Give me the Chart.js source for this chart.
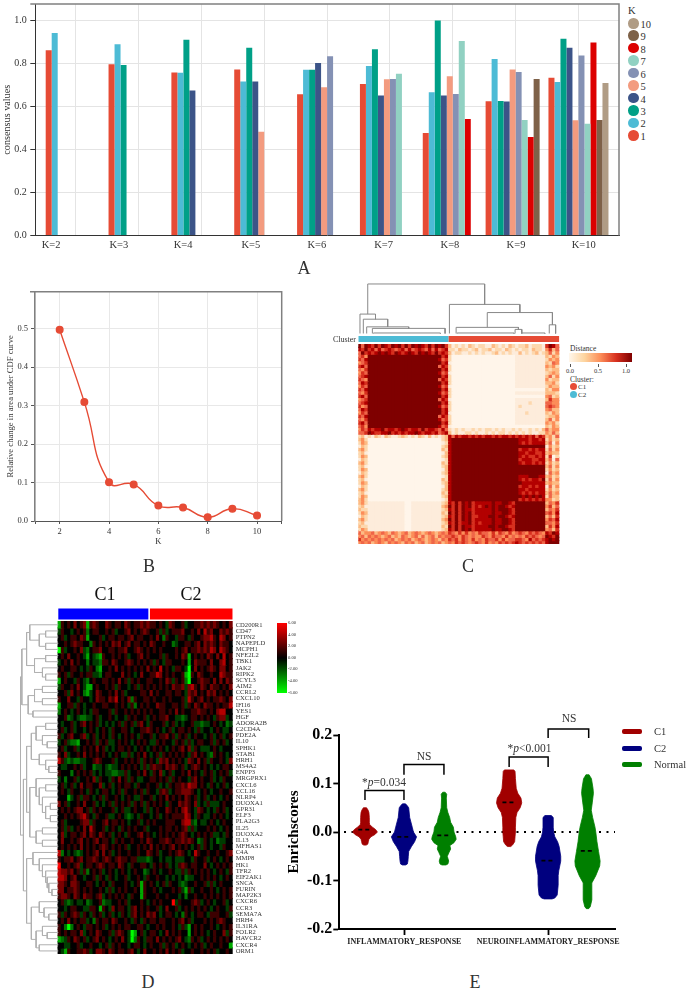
<!DOCTYPE html>
<html>
<head>
<meta charset="utf-8">
<title>Consensus clustering figure</title>
<script src="https://cdn.jsdelivr.net/npm/chart.js@4/dist/chart.umd.min.js"></script>
<style>
	html, body { margin: 0; padding: 0; background: #fff; }
	#page { position: relative; width: 688px; height: 991px; overflow: hidden; font-family: "Liberation Serif", serif; color: #333; }
	#page canvas { position: absolute; }
	.t { position: absolute; white-space: nowrap; transform: translate(-50%, -50%); line-height: 1; }
	.l { transform: translate(0, -50%); }
	.r { transform: translate(-100%, -50%); }
	.s { position: absolute; }
</style>
</head>
<body>
<div id="page">
	<canvas id="chartA" style="left:0;top:0" width="625" height="262"></canvas>
	<canvas id="chartB" style="left:0;top:280px" width="300" height="280"></canvas>
	<canvas id="dendroC" style="left:358px;top:280px" width="202" height="64"></canvas>
	<canvas id="heatC" style="left:358px;top:344px" width="202" height="201"></canvas>
	<canvas id="chartD" style="left:20px;top:600px" width="262" height="356"></canvas>
	<canvas id="chartE" style="left:285px;top:700px" width="335" height="255"></canvas>

	<div class="t" style="left:304px;top:268px;font-size:18px">A</div>
	<div class="t" style="left:149px;top:566px;font-size:18px">B</div>
	<div class="t" style="left:468px;top:566px;font-size:18px">C</div>
	<div class="t" style="left:148px;top:982px;font-size:18px">D</div>
	<div class="t" style="left:475px;top:982px;font-size:18px">E</div>

	<div id="legendA"></div>

	<div class="t r" style="left:356px;top:340px;font-size:8px">Cluster</div>
	<div class="t l" style="left:570px;top:349px;font-size:7.5px">Distance</div>
	<div class="s" style="left:569px;top:353px;width:63px;height:9px;background:linear-gradient(to right,#fff7ec,#fdd49e,#fc8d59,#d7301f,#7f0000)"></div>
	<div class="s" style="left:569.5px;top:364px;width:.8px;height:3px;background:#555"></div>
	<div class="s" style="left:597.5px;top:364px;width:.8px;height:3px;background:#555"></div>
	<div class="s" style="left:625.5px;top:364px;width:.8px;height:3px;background:#555"></div>
	<div class="t" style="left:570px;top:371px;font-size:6.5px">0.0</div>
	<div class="t" style="left:598px;top:371px;font-size:6.5px">0.5</div>
	<div class="t" style="left:626px;top:371px;font-size:6.5px">1.0</div>
	<div class="t l" style="left:570px;top:380px;font-size:7.5px">Cluster:</div>
	<div class="s" style="left:569.5px;top:383px;width:7px;height:7px;border-radius:50%;background:#E64B35"></div>
	<div class="s" style="left:569.5px;top:391px;width:7px;height:7px;border-radius:50%;background:#4DBBD5"></div>
	<div class="t l" style="left:578px;top:387px;font-size:7px">C1</div>
	<div class="t l" style="left:578px;top:395px;font-size:7px">C2</div>

	<div class="t" style="left:105px;top:594px;font-size:18px;color:#111">C1</div>
	<div class="t" style="left:191px;top:594px;font-size:18px;color:#111">C2</div>
	<div class="s" style="left:277.3px;top:622.7px;width:9.4px;height:70px;background:linear-gradient(to bottom,#f00,#000 50%,#0f0)"></div>
	<div class="t l" style="left:288px;top:623.3px;font-size:4.6px">6.00</div>
	<div class="t l" style="left:288px;top:634.7px;font-size:4.6px">4.00</div>
	<div class="t l" style="left:288px;top:646.3px;font-size:4.6px">2.00</div>
	<div class="t l" style="left:288px;top:657.7px;font-size:4.6px">0.00</div>
	<div class="t l" style="left:288px;top:669.3px;font-size:4.6px">-2.00</div>
	<div class="t l" style="left:288px;top:681px;font-size:4.6px">-4.00</div>
	<div class="t l" style="left:288px;top:692.7px;font-size:4.6px">-6.00</div>

	<div class="t" style="left:384px;top:782.5px;font-size:11.5px">*<i>p</i>=0.034</div>
	<div class="t" style="left:424px;top:757px;font-size:11.5px">NS</div>
	<div class="t" style="left:529.5px;top:748.5px;font-size:11.5px">*<i>p</i>&lt;0.001</div>
	<div class="t" style="left:569px;top:719px;font-size:11.5px">NS</div>
	<div class="s" style="left:621.7px;top:729px;width:20.6px;height:4.5px;border-radius:2px;background:#A10000"></div>
	<div class="s" style="left:621.7px;top:746px;width:20.6px;height:4.5px;border-radius:2px;background:#00007F"></div>
	<div class="s" style="left:621.7px;top:762px;width:20.6px;height:4.5px;border-radius:2px;background:#007F00"></div>
	<div class="t l" style="left:654px;top:731.5px;font-size:10.5px">C1</div>
	<div class="t l" style="left:654px;top:748.5px;font-size:10.5px">C2</div>
	<div class="t l" style="left:654px;top:764.5px;font-size:10.5px">Normal</div>
</div>

<script>
	// panel A
	var kValues = [2, 3, 4, 5, 6, 7, 8, 9, 10];
	var kLabels = ["K=2", "K=3", "K=4", "K=5", "K=6", "K=7", "K=8", "K=9", "K=10"];
	var kLabelAt = [1.607, 2.685, 3.708, 4.787, 5.838, 6.898, 7.955, 9.006, 10.083];
	var cluster1 = [0.862, 0.797, 0.758, 0.772, 0.657, 0.705, 0.477, 0.624, 0.734];
	var cluster2 = [0.942, 0.890, 0.757, 0.716, 0.771, 0.789, 0.666, 0.821, 0.714];
	var cluster3 = [null, 0.793, 0.911, 0.873, 0.771, 0.866, 1.000, 0.626, 0.915];
	var cluster4 = [null, null, 0.674, 0.716, 0.802, 0.651, 0.651, 0.623, 0.873];
	var cluster5 = [null, null, null, 0.483, 0.690, 0.727, 0.741, 0.772, 0.536];
	var cluster6 = [null, null, null, null, 0.834, 0.728, 0.658, 0.761, 0.837];
	var cluster7 = [null, null, null, null, null, 0.752, 0.905, 0.537, 0.520];
	var cluster8 = [null, null, null, null, null, null, 0.542, 0.458, 0.898];
	var cluster9 = [null, null, null, null, null, null, null, 0.728, 0.537];
	var cluster10 = [null, null, null, null, null, null, null, null, 0.710];
	var clusterColors = ["#E64B35", "#4DBBD5", "#00A087", "#3C5488", "#F39B7F", "#8491B4", "#91D1C2", "#DC0000", "#7E6148", "#B09C85"];

	// panel B
	var cdfK = [2, 3, 4, 5, 6, 7, 8, 9, 10];
	var cdfChange = [0.497, 0.309, 0.101, 0.095, 0.040, 0.035, 0.010, 0.032, 0.014];

	// panel C, one digit per cell, 0 = distance 0.0 and 8 = distance 1.0
	var distanceRows = [
		"858768687687868687876868786312121321221132121321223122216875",
		"768675756765675756765757567221322123122312213212122132214635",
		"586767878768767876878768676312211212121123121211312123123524",
		"564888888888888888888888867200000000000000000001111111113243",
		"657888888888888888888888756200000000000000000001111111112434",
		"456888888888888888888888867100000000000000000001111111113254",
		"675888888888888888888888576200000000000000000001111111114342",
		"546888888888888888888888867200000000000000000001111111113233",
		"465888888888888888888888756100000000000000000001111111112343",
		"567888888888888888888888867200000000000000000001111111113524",
		"654888888888888888888888576200000000000000000001111111114233",
		"576888888888888888888888867200000000000000000001111111113342",
		"465888888888888888888888756100000000000000000001111111112433",
		"657888888888888888888888867200000000000000000000000000003244",
		"546888888888888888888888756200000000000000000001111111113332",
		"675888888888888888888888867200000000000000000000000000004523",
		"456888888888888888888888576100000000000000000001111111113644",
		"567888888888888888888888867200000000000000000001111211115544",
		"645888888888888888888888756200000000000000000001211111115654",
		"576888888888888888888888867200000000000000000001111111114533",
		"465888888888888888888888867100000000000000000001112111113243",
		"657888888888888888888888576200000000000000000001111111112334",
		"546888888888888888888888756200000000000000000001111111113524",
		"675888888888888888888888867200000000000000000001111111114342",
		"564888888888888888888888756100000000000000000000000000003243",
		"465767786776787677686776575212121121212212121121211212135344",
		"556876677867676778767767567312112212112121221212121211224353",
		"231213213211232121321312123757677676767767677676767675763425",
		"342000000000000000000000023788888888888888888888777677672423",
		"243000000000000000000000012788888888888888888888767677773514",
		"132000000000000000000000023788888888888888888888888888881423",
		"342000000000000000000000032788888888888888888888677676772524",
		"231000000000000000000000013788888888888888888888776776673433",
		"243000000000000000000000023788888888888888888888767667672602",
		"132000000000000000000000012788888888888888888888677766773515",
		"342000000000000000000000032788888888888888888888767767672423",
		"231000000000000000000000023788888888888888888888888888883524",
		"243000000000000000000000013788888888888888888888888888882423",
		"132000000000000000000000023788888888888888888888888888881534",
		"342000000000000000000000012788888888888888888888777888773423",
		"231000000000000000000000032788888888888888888888767677682524",
		"243000000000000000000000023788888888888888888888877777773433",
		"132000000000000000000000013788888888888888888888677676771524",
		"342000000000000000000000023788888888888888888888776777772423",
		"231000000000000000000000032788888888888888888888767676773534",
		"243000000000000000000000023788888888888888888888878787872533",
		"342000000000000000000000012788888888888888888888676767674423",
		"342111111111110011111111123768687867777787788768888888883546",
		"231111111111110011111111134868687867678787887678888888884635",
		"322111111111110011111111123768687767777787888768888888883546",
		"243111111111110011111111132868687867777787788768888888885647",
		"132111111111110011111111123768687866777887887678888888883536",
		"342111111111110011111111134868687867777787788768888888884657",
		"231111111111110011111111123768677867677787788768888888885546",
		"322111111111110011111111132868687767777887887668888888883647",
		"243111111111110011111111123768687867777787788768888888884536",
		"534453454354345345434543454654646454655464654645654656547687",
		"453545434534354345353453545565465454465465546454546565458768",
		"645454545453454534543454354656465464546556464556654756567878",
		"454534543545435453453454534546565456546454656567656565657888"
	];
	var distanceColors = ["#fff5ea", "#fdecdb", "#fdd8ae", "#fdbb84", "#fc8d59", "#ef6548", "#d7301f", "#b30000", "#7f0000"];
	var columnTree = [
		[0.5, [1.5, [2.5, [4.2, 25.9, 0.13], 0.16], 0.31], 0.41],
		[27.2, [[29.2, [46.8, 48.8, 0.11], 0.15], [57, 58.9, 0.2], 0.44], 0.6],
		1
	];
	var columnTreeFoot = [[4.5, 24.5, 0.04], [29.5, 46.5, 0.04], [48.8, 55.7, 0.04]];
	var clusterBarC2 = [0, 26.9];
	var clusterBarC1 = [26.9, 60];

	// panel D, one digit per cell, 0 = brightest green, 4 = black, 8 = brightest red
	var genes = ["CD200R1", "CD47", "PTPN2", "NAPEPLD", "MCPH1", "NFE2L2", "TBK1", "JAK2", "RIPK2", "SCYL3", "AIM2", "CCRL2", "CXCL10", "IFI16", "YES1", "HGF", "ADORA2B", "C2CD4A", "PDE2A", "IL10", "SPHK1", "STAB1", "HRH1", "MS4A2", "ENPP3", "MRGPRX1", "CXCL6", "CCL16", "NLRP4", "DUOXA1", "GPR31", "ELF3", "PLA2G3", "IL25", "DUOXA2", "IL13", "MFHAS1", "C4A", "MMP8", "HK1", "TFR2", "EIF2AK1", "SNCA", "FURIN", "MAP2K3", "CXCR6", "CCR3", "SEMA7A", "HRH4", "IL31RA", "FOLR2", "HAVCR2", "CXCR4", "ORM1"];
	var expressionRows = [
		"15454 64561 56544 65455 46545 56565 54543 65445 34455 65656 54546",
		"35443 45452 45544 54534 45645 45654 45353 45556 44546 47564 46565",
		"45345 54651 44453 45545 54564 55445 46425 44355 43544 56675 47645",
		"44545 65544 25454 54656 45645 54546 54454 42344 55456 46565 46554",
		"05344 54632 45564 45545 56445 65454 54544 44545 64556 56576 47654",
		"45464 45431 43215 44545 45344 56454 44535 44546 51454 54654 64745",
		"34546 45442 43325 54654 45654 54545 35435 54445 41465 55464 46745",
		"45445 54343 54214 45464 54545 45464 54745 43554 30464 54565 46645",
		"54535 44545 53324 55444 64543 46445 57645 45445 10546 54454 47655",
		"14544 35432 45445 54546 45354 54455 44546 53545 20445 65546 46465",
		"35445 46431 14544 54535 44345 35454 54545 46556 36754 65465 54546",
		"44536 45421 34654 45464 53444 45546 45445 54554 36564 54656 45454",
		"54464 43544 34655 46574 54625 44554 54454 54445 37545 64545 56546",
		"14455 35434 45445 54454 54352 45454 46554 45545 35465 46554 54557",
		"24543 45434 35544 45354 45454 54545 44554 54645 44556 55454 67744",
		"44523 43223 34534 45434 43545 44534 54556 44332 34554 54543 56634",
		"43445 34564 54534 34345 35453 56435 44453 45343 44533 23345 43423",
		"45345 34434 54345 43544 55434 45565 45434 53455 45435 34434 54334",
		"53456 44563 45345 43543 45454 35445 34556 45354 53454 43453 45345",
		"34532 21445 45354 53345 45434 54543 35454 43545 35345 54453 54534",
		"45344 53454 54645 34345 54543 45434 54543 45456 46354 33345 43444",
		"54634 45464 54545 43454 33534 54643 45354 54545 43564 54325 45434",
		"75323 22334 45654 44534 45454 53545 43656 45454 36546 45354 45436",
		"43344 54534 42334 32334 54545 43535 65546 56545 34565 45434 34554",
		"54442 45454 53434 33223 35344 54643 54634 53445 46454 35453 45453",
		"34244 53445 46354 43546 45354 33445 54545 35454 43564 54453 43544",
		"45345 34645 54463 45345 45543 54454 45343 54556 57664 54354 34534",
		"45435 44543 54345 54345 35445 45354 43565 34556 66543 45434 45445",
		"44413 45355 43453 54454 34543 35445 34546 45454 65453 45345 43454",
		"64534 45464 45343 45354 54535 45354 54543 54465 65463 43533 34544",
		"45454 56645 35454 44534 53345 44353 45446 54546 75436 54343 54534",
		"44545 45675 43544 53345 43234 35443 45345 45555 76435 43345 45434",
		"45344 44566 35445 64554 54344 53454 54445 55446 77324 33454 34544",
		"45353 45464 75445 34543 54545 44534 44545 54545 63534 44545 43454",
		"46345 54564 65465 45345 43544 56454 34545 45456 54345 45453 34354",
		"46445 45645 45645 54354 54454 45465 44556 54556 56542 35434 23344",
		"45454 54645 45456 54545 45344 54546 45454 56454 54345 35434 43544",
		"72434 32345 45646 45345 44544 54465 45344 54565 43475 44544 54456",
		"54556 45645 56545 65456 55455 33323 44343 34333 44354 45345 43454",
		"84454 56345 54565 45546 54354 45543 54545 34356 54554 46434 54545",
		"76656 45352 45453 45434 54345 44234 54344 54335 35454 54543 45435",
		"77645 64434 45354 35434 45344 54354 45443 43434 23344 54545 43454",
		"66546 65445 54345 43544 45434 51545 43453 54432 34454 45353 45444",
		"66455 65454 54454 35345 45445 41544 54344 45453 15344 54454 34545",
		"56654 65465 54563 45454 54354 41544 45445 44434 24454 45454 54545",
		"45323 43342 34452 33445 45344 45434 54544 48354 44565 34543 44534",
		"44345 54433 55415 43645 54356 45454 45346 44534 54545 45434 54435",
		"53545 65354 35453 45343 54356 45465 64345 54342 54345 54355 54453",
		"45464 54553 42545 54654 45435 43545 54554 45456 45344 45454 56544",
		"54202 45435 54545 34545 45544 55434 45454 45435 31454 54454 34545",
		"54545 54634 54654 45356 54301 45345 54346 45454 41454 54345 44635",
		"12354 65453 45645 43454 64302 54355 46454 54564 32545 34545 45454",
		"44334 45344 54434 53545 44345 54345 44535 45345 43454 53454 45441",
		"43154 45565 34665 46545 54564 34644 54546 45453 44544 54545 34454"
	];
	var expressionColors = ["#00ff00", "#00aa00", "#007000", "#003c00", "#000000", "#3c0000", "#780000", "#b40000", "#ff0000"];
	var rowTree = [
		[
			[
				[0.5, [[1.5, 2.5, 4], [3.5, 4.5, 4], 6], 9],
				[[5.5, 6.5, 4], [7.5, [8.5, 9.5, 4], 5], 7.5],
				10
			],
			[[[10.5, 11.5, 5], [12.5, 13.5, 5], 7.5], [14.5, 15.5, 8], 9.5],
			11.5
		],
		[
			[
				[
					[[16.5, 17.5, 4], [18.5, [19.5, 20.5, 3.5], 5], 7],
					[21.5, [22.5, [23.5, 24.5, 3], 4], 6],
					8.5
				],
				[
					[25.5, [[26.5, 27.5, 4], [28.5, [[29.5, 30.5, 2.5], [31.5, 32.5, 2.5], 4], 5], 6], 7],
					[[33.5, 34.5, 5], [35.5, 36.5, 5], 7],
					9
				],
				10
			],
			[
				[37.5, [38.5, [39.5, [40.5, [41.5, [42.5, [43.5, 44.5, 2], 3], 3.5], 4], 5], 6], 8],
				[[45.5, [46.5, [47.5, 48.5, 3], 4.5], 6], [[49.5, [50.5, 51.5, 3.5], 5], [52.5, 53.5, 6], 7], 8.5],
				10
			],
			11
		],
		12
	];
	var sampleBarC1 = [0, 28.4];
	var sampleBarC2 = [28.9, 55];

	// panel E, half widths are in units of the x scale
	var violinPositions = [1, 1.99, 3.005, 4.66, 5.65, 6.65];
	var violinY1 = [0.05, 0.045, 0.04, 0.03, 0.02, 0.015, 0.01, 0.005, 0, -0.005, -0.01, -0.015, -0.02, -0.025, -0.027];
	var violinW1 = [0.04, 0.08, 0.10, 0.11, 0.11, 0.12, 0.19, 0.27, 0.315, 0.255, 0.15, 0.10, 0.085, 0.07, 0.03];
	var violinY2 = [0.058, 0.054, 0.05, 0.03, 0.01, 0, -0.01, -0.02, -0.03, -0.04, -0.05, -0.06, -0.066, -0.068];
	var violinW2 = [0.04, 0.085, 0.12, 0.145, 0.21, 0.24, 0.32, 0.27, 0.19, 0.12, 0.11, 0.10, 0.085, 0.04];
	var violinY3 = [0.082, 0.078, 0.07, 0.05, 0.04, 0.03, 0.02, 0.01, 0, -0.01, -0.015, -0.022, -0.028, -0.035, -0.042, -0.05, -0.06, -0.066, -0.068];
	var violinW3 = [0.03, 0.07, 0.06, 0.07, 0.10, 0.145, 0.17, 0.24, 0.255, 0.30, 0.31, 0.255, 0.15, 0.17, 0.13, 0.085, 0.12, 0.10, 0.05];
	var violinY4 = [0.128, 0.125, 0.11, 0.09, 0.08, 0.07, 0.06, 0.05, 0.04, 0.03, 0.01, 0, -0.01, -0.02, -0.027, -0.03];
	var violinW4 = [0.12, 0.15, 0.16, 0.18, 0.22, 0.30, 0.32, 0.28, 0.20, 0.17, 0.16, 0.16, 0.15, 0.14, 0.085, 0.04];
	var violinY5 = [0.034, 0.03, 0.01, 0, -0.01, -0.02, -0.03, -0.05, -0.06, -0.08, -0.09, -0.11, -0.13, -0.136, -0.138];
	var violinW5 = [0.08, 0.13, 0.13, 0.14, 0.17, 0.24, 0.28, 0.32, 0.32, 0.27, 0.255, 0.255, 0.23, 0.17, 0.10];
	var violinY6 = [0.118, 0.114, 0.11, 0.09, 0.08, 0.06, 0.045, 0.03, 0.01, 0, -0.02, -0.04, -0.06, -0.07, -0.09, -0.105, -0.12, -0.14, -0.154, -0.158];
	var violinW6 = [0.04, 0.07, 0.10, 0.14, 0.15, 0.12, 0.095, 0.13, 0.19, 0.21, 0.24, 0.28, 0.32, 0.31, 0.21, 0.11, 0.11, 0.11, 0.07, 0.03];
	var violinMedians = [0.005, -0.01, -0.007, 0.061, -0.059, -0.039];
	var violinColors = ["#A10000", "#00007F", "#007F00", "#A10000", "#00007F", "#007F00"];
	var pathwayTicks = [2, 5.65];
	var pathwayLabels = ["INFLAMMATORY_RESPONSE", "NEUROINFLAMMATORY_RESPONSE"];
	var bracketX = [[1, 1.99], [1.99, 3.005], [4.66, 5.65], [5.65, 6.68]];
	var bracketTop = [0.0855, 0.139, 0.1545, 0.2124];
	var bracketFoot = [0.066, 0.118, 0.134, 0.194];

	Chart.defaults.font.family = '"Liberation Serif", serif';
	Chart.defaults.color = "#333";
	Chart.defaults.animation = false;
	Chart.defaults.responsive = false;
	Chart.defaults.plugins.legend.display = false;
	Chart.defaults.plugins.tooltip.enabled = false;

	// the axis boxes get a fixed size so the plot areas land where they should
	function fixWidth(w) {
		return function (scale) { scale.width = w; scale.paddingTop = 0; scale.paddingBottom = 0; };
	}
	function fixHeight(h) {
		return function (scale) { scale.height = h; scale.paddingLeft = 0; scale.paddingRight = 0; };
	}
	function oneDecimal(v) {
		return (Math.round(v * 10) / 10).toFixed(1);
	}

	// the grey top and right edges of the plot boxes
	var framePlugin = {
		id: "frame",
		afterDraw: function (chart) {
			var a = chart.chartArea, c = chart.ctx;
			c.save();
			c.strokeStyle = "#808080";
			c.lineWidth = 1.5;
			c.beginPath();
			c.moveTo(a.left - 5, a.top);
			c.lineTo(a.right, a.top);
			c.lineTo(a.right, a.bottom);
			c.stroke();
			c.restore();
		}
	};

	// K=n labels sit under the bars that exist, not under the grid line
	var kLabelPlugin = {
		id: "kLabels",
		afterDraw: function (chart) {
			var c = chart.ctx, x = chart.scales.x;
			c.save();
			c.font = '10.5px "Liberation Serif"';
			c.fillStyle = "#333";
			c.textAlign = "center";
			c.textBaseline = "middle";
			kLabels.forEach(function (label, i) {
				c.fillText(label, x.getPixelForValue(kLabelAt[i]), 245);
			});
			c.restore();
		}
	};

	// fills the outline of a violin dataset
	var violinPlugin = {
		id: "violinFill",
		beforeDatasetDraw: function (chart, args) {
			var ds = chart.data.datasets[args.index];
			if (!ds.violin) return;
			var pts = chart.getDatasetMeta(args.index).data, c = chart.ctx;
			c.save();
			c.fillStyle = ds.backgroundColor;
			c.strokeStyle = ds.backgroundColor;
			c.lineWidth = 0.8;
			c.lineJoin = "round";
			c.beginPath();
			pts.forEach(function (p, i) {
				if (i === 0) c.moveTo(p.x, p.y);
				else c.lineTo(p.x, p.y);
			});
			c.closePath();
			c.fill();
			c.stroke();
			c.restore();
		}
	};

	// walks a nested [left, right, height] tree into a broken polyline
	function treeLines(node, base, out, toPoint) {
		if (typeof node === "number") return { p: node, h: base };
		var a = treeLines(node[0], base, out, toPoint);
		var b = treeLines(node[1], base, out, toPoint);
		var h = node[2];
		out.push(toPoint(a.p, a.h), toPoint(a.p, h), toPoint(b.p, h), toPoint(b.p, b.h), { x: NaN, y: NaN });
		return { p: (a.p + b.p) / 2, h: h };
	}

	function heatDatasets(rows, colors) {
		return rows.map(function (row, r) {
			var cells = row.replace(/ /g, "").split("");
			return {
				type: "bar",
				grouped: false,
				categoryPercentage: 1,
				barPercentage: 1,
				inflateAmount: 0.7,
				order: 5,
				data: cells.map(function (d, c) { return { x: c + 0.5, y: [r, r + 1] }; }),
				backgroundColor: cells.map(function (d) { return colors[+d]; })
			};
		});
	}

	function segment(span, y, color, width) {
		return {
			type: "scatter",
			showLine: true,
			pointRadius: 0,
			borderColor: color,
			borderWidth: width,
			order: 1,
			data: [{ x: span[0], y: y }, { x: span[1], y: y }]
		};
	}

	// panel A
	var clusterSeries = [cluster1, cluster2, cluster3, cluster4, cluster5, cluster6, cluster7, cluster8, cluster9, cluster10];
	new Chart(document.getElementById("chartA"), {
		type: "bar",
		data: {
			datasets: clusterSeries.map(function (s, i) {
				return {
					label: String(i + 1),
					backgroundColor: clusterColors[i],
					categoryPercentage: 0.955,
					barPercentage: 1,
					data: kValues.map(function (k, j) { return { x: k, y: s[j] }; })
				};
			})
		},
		plugins: [framePlugin, kLabelPlugin],
		options: {
			layout: { padding: { top: 4, right: 6, left: 0, bottom: 0 } },
			scales: {
				x: {
					type: "linear", min: 1.357, max: 10.645, offset: false,
					afterFit: fixHeight(26.5),
					afterBuildTicks: function (s) { s.ticks = kValues.map(function (k) { return { value: k }; }); },
					grid: { color: "#e4e4e4", offset: false, drawTicks: false },
					border: { color: "#333", width: 1 },
					ticks: { display: false, autoSkip: false }
				},
				y: {
					min: 0, max: 1.077,
					afterFit: fixWidth(35.3),
					afterBuildTicks: function (s) { s.ticks = [0, 0.2, 0.4, 0.6, 0.8, 1].map(function (v) { return { value: v }; }); },
					grid: { color: "#e4e4e4", tickColor: "#333", tickLength: 5 },
					border: { color: "#333", width: 1 },
					title: { display: true, text: "consensus values", font: { size: 10.2 }, padding: { top: 1, bottom: 0 } },
					ticks: { font: { size: 10 }, padding: 3.5, callback: oneDecimal, autoSkip: false }
				}
			}
		}
	});

	var legendA = document.getElementById("legendA");
	var legendHtml = '<div class="t l" style="left:628px;top:11px;font-size:10.5px">K</div>';
	for (var n = 10; n >= 1; n--) {
		var ly = 23.3 + (10 - n) * 12.45;
		legendHtml += '<div class="s" style="left:628px;top:' + (ly - 5.3) + 'px;width:10.5px;height:10.5px;border-radius:50%;background:' + clusterColors[n - 1] + '"></div>';
		legendHtml += '<div class="t l" style="left:640.5px;top:' + (ly + 1.5) + 'px;font-size:10.5px">' + n + '</div>';
	}
	legendA.innerHTML = legendHtml;

	// panel B
	new Chart(document.getElementById("chartB"), {
		type: "line",
		data: {
			datasets: [{
				data: cdfK.map(function (k, i) { return { x: k, y: cdfChange[i] }; }),
				borderColor: "#E64B35",
				backgroundColor: "#E64B35",
				borderWidth: 1.4,
				tension: 0.5,
				pointRadius: 3.3
			}]
		},
		plugins: [framePlugin],
		options: {
			layout: { padding: { top: 11.7, right: 18.3, left: 0, bottom: 13 } },
			scales: {
				x: {
					type: "linear", min: 1, max: 11,
					afterFit: fixHeight(26),
					afterBuildTicks: function (s) { s.ticks = [1, 2, 4, 6, 8, 10, 11].map(function (v) { return { value: v }; }); },
					grid: { color: "#e8e8e8", tickColor: "#555", tickLength: 3 },
					border: { color: "#555", width: 1 },
					title: { display: true, text: "K", font: { size: 8.5 }, padding: 0 },
					ticks: {
						font: { size: 8.5 }, padding: 3, maxRotation: 0, autoSkip: false,
						callback: function (v) { return v === 1 || v === 11 ? "" : v; }
					}
				},
				y: {
					min: 0, max: 0.596,
					afterFit: fixWidth(35),
					afterBuildTicks: function (s) { s.ticks = [0, 0.1, 0.2, 0.3, 0.4, 0.5, 0.596].map(function (v) { return { value: v }; }); },
					grid: { color: "#e8e8e8", tickColor: "#555", tickLength: 4 },
					border: { color: "#808080", width: 1.5 },
					title: { display: true, text: "Relative change in area under CDF curve", font: { size: 8.6 }, padding: { top: 6, bottom: 0 } },
					ticks: {
						font: { size: 8.5 }, padding: 3, autoSkip: false,
						callback: function (v) { return v > 0.55 ? "" : oneDecimal(v); }
					}
				}
			}
		}
	});

	// panel C
	var columnLines = [];
	treeLines(columnTree, 0.03, columnLines, function (p, h) { return { x: p, y: h }; });
	columnTreeFoot.forEach(function (t) {
		treeLines(t, 0.03, columnLines, function (p, h) { return { x: p, y: h }; });
	});
	new Chart(document.getElementById("dendroC"), {
		type: "scatter",
		data: {
			datasets: [
				{ data: columnLines, showLine: true, pointRadius: 0, borderColor: "#888", borderWidth: 1, spanGaps: false },
				segment(clusterBarC2, -0.078, "#4DBBD5", 6),
				segment(clusterBarC1, -0.078, "#E64B35", 6)
			]
		},
		options: {
			layout: { padding: { left: 0.3, right: 0.7 } },
			scales: {
				x: { display: false, min: 0, max: 60 },
				y: { display: false, min: -0.176, max: 1.078 }
			}
		}
	});
	new Chart(document.getElementById("heatC"), {
		type: "bar",
		data: { datasets: heatDatasets(distanceRows, distanceColors) },
		options: {
			layout: { padding: { left: 0.3, right: 0.7, bottom: 1 } },
			scales: {
				x: { type: "linear", display: false, min: 0, max: 60, offset: false },
				y: { display: false, min: 0, max: 60, reverse: true }
			}
		}
	});

	// panel D
	var rowLines = [];
	treeLines(rowTree, 0, rowLines, function (p, h) { return { x: -h, y: p }; });
	var rowDatasets = heatDatasets(expressionRows, expressionColors);
	rowDatasets.push({ type: "scatter", data: rowLines, showLine: true, pointRadius: 0, borderColor: "#b0b0b0", borderWidth: 1, spanGaps: false, order: 1 });
	rowDatasets.push(segment(sampleBarC1, -1.27, "#0000ff", 11));
	rowDatasets.push(segment(sampleBarC2, -1.27, "#ff0000", 11));
	new Chart(document.getElementById("chartD"), {
		type: "bar",
		data: { datasets: rowDatasets },
		options: {
			layout: { padding: { top: 1.4, left: 0, bottom: 2 } },
			scales: {
				x: { type: "linear", display: false, min: -12.08, max: 55, offset: false },
				y: {
					position: "right", min: -3.3, max: 54, reverse: true,
					afterFit: fixWidth(49.3),
					afterBuildTicks: function (s) { s.ticks = genes.map(function (g, i) { return { value: i + 0.5 }; }); },
					grid: { display: false, drawTicks: false },
					border: { display: false },
					ticks: {
						font: { size: 6.6 }, padding: 3, autoSkip: false,
						callback: function (v) { return genes[v - 0.5]; }
					}
				}
			}
		}
	});

	// panel E
	var violinYs = [violinY1, violinY2, violinY3, violinY4, violinY5, violinY6];
	var violinWs = [violinW1, violinW2, violinW3, violinW4, violinW5, violinW6];
	var violinDatasets = [];
	violinPositions.forEach(function (pos, i) {
		violinDatasets.push({
			data: [{ x: pos - 0.17, y: violinMedians[i] }, { x: pos + 0.17, y: violinMedians[i] }],
			showLine: true, pointRadius: 0, borderColor: "#000", borderWidth: 1.8, borderDash: [4, 3]
		});
	});
	violinPositions.forEach(function (pos, i) {
		var right = violinYs[i].map(function (y, j) { return { x: pos + violinWs[i][j], y: y }; });
		var left = violinYs[i].map(function (y, j) { return { x: pos - violinWs[i][j], y: y }; }).reverse();
		violinDatasets.push({ violin: true, backgroundColor: violinColors[i], pointRadius: 0, data: right.concat(left) });
	});
	violinDatasets.push({
		data: [{ x: 0.467, y: 0 }, { x: 7.348, y: 0 }],
		showLine: true, pointRadius: 0, borderColor: "#000", borderWidth: 1.8, borderDash: [2, 5.5]
	});
	bracketX.forEach(function (xs, i) {
		violinDatasets.push({
			data: [{ x: xs[0], y: bracketFoot[i] }, { x: xs[0], y: bracketTop[i] }, { x: xs[1], y: bracketTop[i] }, { x: xs[1], y: bracketFoot[i] }],
			showLine: true, pointRadius: 0, borderColor: "#000", borderWidth: 1.5, clip: false
		});
	});
	new Chart(document.getElementById("chartE"), {
		type: "scatter",
		data: { datasets: violinDatasets },
		plugins: [violinPlugin],
		options: {
			layout: { padding: { top: 35, right: 5, left: 0, bottom: 0 } },
			scales: {
				x: {
					min: 0.348, max: 7.348,
					afterFit: fixHeight(26),
					afterBuildTicks: function (s) { s.ticks = pathwayTicks.map(function (v) { return { value: v }; }); },
					grid: { drawOnChartArea: false, tickColor: "#000", tickLength: 6, tickWidth: 1.8 },
					border: { color: "#000", width: 2 },
					ticks: {
						font: { size: 8, weight: "bold" }, color: "#222", padding: 2, maxRotation: 0, autoSkip: false,
						callback: function (v, i) { return pathwayLabels[i]; }
					}
				},
				y: {
					min: -0.2, max: 0.2,
					afterFit: fixWidth(54.3),
					grid: { drawOnChartArea: false, tickColor: "#000", tickLength: 6, tickWidth: 1.8 },
					border: { color: "#000", width: 2 },
					title: { display: true, text: "Enrichscores", color: "#000", font: { size: 15, weight: "bold" }, padding: 0 },
					ticks: { stepSize: 0.1, font: { size: 16, weight: "bold" }, color: "#000", padding: 1, callback: oneDecimal, autoSkip: false }
				}
			}
		}
	});
</script>
</body>
</html>
